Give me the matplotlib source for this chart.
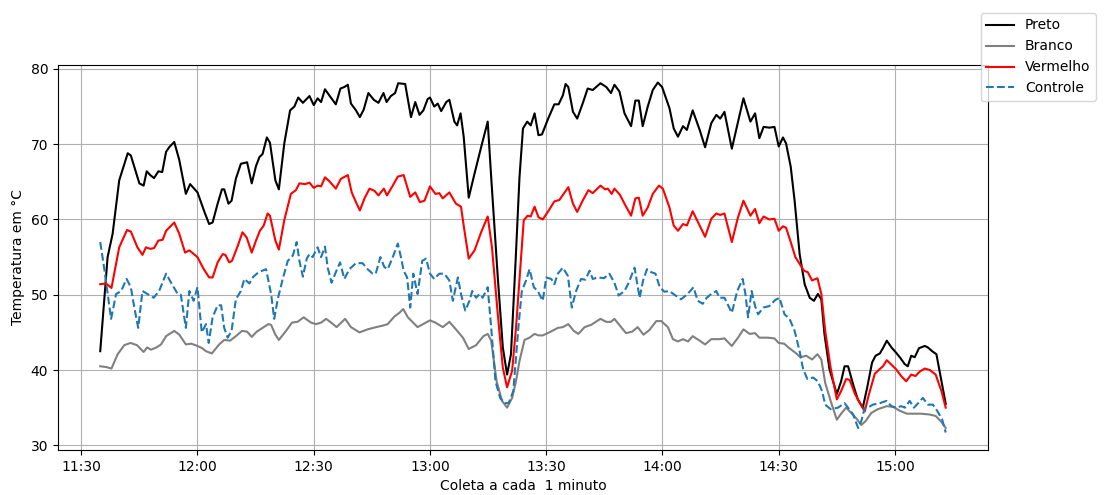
import matplotlib
matplotlib.use('Agg')
import matplotlib.pyplot as plt
import matplotlib.dates as mdates
import pandas as pd

# minutes after 11:30 and temperatures
preto_t = [4.9, 6.8, 8.1, 9.8, 12, 12.8, 15, 16.1, 16.9, 17.8, 18.8, 19.9, 20.9, 21.9, 22.7, 24, 25.3, 27, 28.1, 30,
           31.8, 33, 33.9, 35.2, 36.3, 36.9, 38, 38.8, 39.9, 41.2, 42.8, 44, 45.1, 46, 46.8, 47.9, 48.7, 50.1, 51, 52.4,
           53.9, 55, 56, 57.2, 58.9, 60, 61, 61.9, 62.9, 64, 65.7, 66.9, 67.9, 68.8, 69.6, 70.9, 71.9, 72.9, 74.1, 75.5,
           76.7, 78, 78.8, 79.9, 81, 81.8, 83.6, 85.1, 86.2, 87.3, 88.3, 89.4, 90, 91.1, 92, 92.9, 94.2, 95, 96.3, 97,
           97.9, 98.7, 100, 101.5, 103.2, 104.9, 105.8, 107.5, 108.8, 109.9, 110.9, 112.1, 113.1, 114, 115.1, 116, 117,
           118, 118.9, 120.5, 122.1, 123.2, 124.3, 125, 125.7, 126.9, 128, 129.4, 130.7, 132, 134, 135.5, 136.7, 137.6,
           138.9, 140.2, 141.9, 143, 143.9, 144.9, 146.2, 147.5, 148.8, 149.9, 151.8, 152.9, 154, 155.3, 156.3, 157.8,
           159.6, 161, 162.6, 163.9, 164.9, 166, 167.9, 169.5, 170.9, 172.7, 173.9, 175, 176.1, 177.6, 178.9, 180,
           181.1, 181.9, 183.1, 184.1, 185.4, 186.7, 188, 189.1, 190.1, 191, 191.8, 193.1, 195, 196.1, 197, 197.9,
           199.2, 200.4, 201.7, 202.8, 204.1, 205, 206.1, 206.9, 207.9, 209.1, 210.3, 211.4, 212.5, 213.3, 214.2,
           215.1, 216.2, 217.7, 218.5, 219.6, 220.7, 222, 223.1]
preto = [42.5, 55, 58.1, 65.2, 68.8, 68.5, 64.8, 64.5, 66.4, 65.9, 65.5, 66.4, 66.3, 69, 69.6, 70.3, 67.9, 63.4, 64.7, 63.6,
         61.0, 59.4, 59.6, 62.1, 64, 64, 62.1, 62.5, 65.4, 67.4, 67.6, 64.8, 67.1, 68.3, 68.7, 70.9, 70.2, 65.2, 64, 70.1,
         74.5, 75, 76.2, 75.5, 76.4, 75.2, 76.1, 75.6, 77.3, 76.5, 75.3, 77.4, 77.6, 77.9, 75.4, 74.5, 73.6, 74.6, 76.8, 75.9,
         75.5, 76.8, 75.6, 76.4, 76.8, 78.1, 78.0, 73.6, 75.6, 73.9, 74.5, 76, 76.2, 75, 75.4, 74.4, 75.6, 75.9, 73, 72.5,
         74.1, 71, 62.9, 66.1, 69.6, 73, 65.6, 52.3, 43, 39.4, 42.1, 54.5, 65.6, 72.1, 73, 72.5, 74.1,
         71.2, 71.3, 73.4, 75.3, 75.3, 76.5, 78, 77.6, 74.3, 73.4, 75.4, 77.4, 77.2, 78.1, 77.6, 76.8, 77.9,
         77, 74.1, 72.4, 75.8, 75.8, 72.4, 75, 77.2, 78.2, 77.6, 74.8, 72.1, 71, 72.4, 71.9, 74.5,
         71.9, 69.6, 72.8, 73.9, 73.4, 74.3, 69.4, 73, 76.1, 73, 74.1, 70.8, 72.3, 72.2, 72.3, 69.7,
         70.9, 70.1, 67, 62.5, 55.4, 51.4, 49.6, 49.2, 50.1, 49.4, 44.8, 40.1, 36.8, 38.5, 40.5, 40.5,
         38.1, 36.1, 35, 37.6, 41, 41.9, 42.2, 42.9, 43.9, 43, 42.3, 41.6, 40.8, 40.5, 41.9,
         41.7, 42.9, 43.2, 43, 42.5, 42.1, 38.5, 35.5]

branco_t = [4.9, 6.4, 7.8, 9.4, 11.1, 12.7, 14.4, 16.1, 17, 18, 19.4, 20.6, 21.9, 24, 25.3, 27, 28.4, 30, 31.2, 32.2,
            33.7, 35.6, 36.9, 38.4, 39.9, 41.5, 42.8, 44, 45.3, 46.8, 48.3, 49, 50.1, 51, 52.7, 54.4, 55.8, 57.4, 59.3,
            60.6, 61.9, 63.2, 64.5, 65.9, 68.1, 69.6, 71.8, 73.9, 76.1, 77.8, 79.1, 80.8, 82.1, 83.1, 84.3, 86.8, 90,
            91.4, 93.3, 95, 96.7, 98.5, 100, 101.9, 103.8, 104.9, 105.8, 107.2, 108.6, 109.9, 111.2, 112.2, 113.1,
            114.4, 115.7, 117, 118, 119.1, 120.8, 123, 124.3, 125.7, 127.1, 128.3, 129.9, 131.6, 134, 135.5, 136.7,
            137.6, 139, 140.6, 142.2, 143.6, 145.1, 146.6, 148.4, 149.7, 151.4, 152.7, 154, 155.3, 156.6, 157.8,
            159.6, 161, 162.6, 164.7, 166, 167.9, 169.5, 170.9, 172.5, 173.9, 175, 177.2, 178.9, 180, 181.4, 182.5,
            184.3, 185.6, 187.1, 188.6, 190, 191, 192, 193.4, 195, 196.1, 197.4, 198.7, 200, 201.3, 202.4, 203.9,
            205.6, 207.9, 209.6, 211.2, 213.1, 214.6, 216.7, 218.8, 220.5, 222, 223.1]
branco = [40.5, 40.4, 40.2, 42.1, 43.3, 43.6, 43.3, 42.4, 43, 42.7, 43, 43.4, 44.5, 45.2, 44.7, 43.4, 43.5, 43.2, 42.9, 42.5,
          42.2, 43.4, 44, 43.9, 44.5, 45.2, 45.1, 44.4, 45.1, 45.6, 46.1, 46, 44.7, 44, 45.1, 46.3, 46.4, 47, 46.3,
          46.1, 46.3, 46.8, 46.3, 45.7, 46.8, 45.7, 45, 45.4, 45.7, 45.9, 46.1, 47.1, 47.6, 48.1, 47, 45.7, 46.6,
          46.3, 45.7, 46.4, 45.4, 44.3, 42.8, 43.3, 44.5, 44.8, 43.9, 38.5, 35.9, 35, 36.3, 38.5, 41.2,
          44, 44.3, 44.8, 44.6, 44.6, 45, 45.6, 45.7, 46.1, 45.2, 44.8, 45.7, 46, 46.8, 46.4, 46.4,
          46.8, 45.9, 44.9, 45.1, 45.7, 44.7, 45.3, 46.5, 46.5, 45.7, 44.1, 43.8, 44.1, 43.8, 44.5,
          43.9, 43.4, 44.1, 44.1, 44.2, 43.2, 44.3, 45.4, 44.8, 44.9, 44.3, 44.3, 44.2, 43.6, 43.5, 43,
          42.3, 41.7, 41.9, 41.4, 42.1, 41.4, 38.3, 35.9, 33.4, 34.2, 35, 34.3, 33.6, 32.7, 33.2, 34.3,
          34.8, 35.2, 35.1, 34.6, 34.2, 34.2, 34.2, 34.1, 33.9, 33.1, 32.3]

vermelho_t = [4.9, 6.4, 7.8, 9.8, 11.8, 12.8, 14.5, 15.8, 16.7, 17.8, 18.8, 19.9, 21, 21.9, 24, 25.3, 26.8, 27.9, 30,
              31.5, 33, 33.9, 35.2, 36.5, 37.2, 38.2, 38.9, 40.4, 41.6, 42.7, 44, 45.1, 46.1, 47.1, 48.1, 48.7, 50.1,
              51, 52.4, 54.1, 55.4, 56.3, 57.8, 58.9, 60, 61, 61.9, 62.9, 64, 65.7, 67, 68.8, 69.8, 70.9, 71.9, 73.1,
              74.4, 75.7, 76.7, 78.1, 78.9, 80.4, 81.7, 83.2, 84.9, 86.2, 87.4, 88.6, 90, 91.4, 92.4, 93.3, 95, 96.7,
              98, 98.9, 100, 101.5, 103.2, 104.9, 106, 107.5, 108.8, 109.9, 111.2, 112.2, 113.1, 114.2, 115.2, 116,
              117, 118, 119.1, 120.4, 122.1, 123.4, 124.5, 125.7, 126.9, 128, 129.4, 130.9, 132, 134, 135.2, 135.9,
              136.9, 137.6, 139, 140.2, 141.9, 143, 143.9, 144.9, 146.2, 147.5, 149.1, 150.1, 151.8, 152.9, 154,
              155.3, 156.3, 157.8, 159.6, 161, 162.6, 163.9, 164.9, 166, 167.9, 169.5, 170.9, 172.7, 173.9, 175,
              176.1, 177.6, 178.9, 180, 181.1, 181.9, 183.1, 184.3, 185.4, 186.5, 187.5, 188.6, 190, 191, 192,
              193.4, 195, 196.1, 197.4, 198.3, 199.7, 201.2, 202.2, 203.3, 204.8, 206, 206.9, 207.9, 209.1, 210.3,
              211.6, 212.9, 214.2, 215.3, 216.4, 217.7, 219, 220.5, 222, 223.1]
vermelho = [51.4, 51.5, 50.9, 56.3, 58.6, 58.4, 56.3, 55.3, 56.3, 56.1, 56.2, 57.2, 57.3, 58.5, 59.6, 58.1, 55.6, 55.9, 55.0,
            53.5, 52.3, 52.3, 54.3, 55.4, 55.3, 54.3, 54.5, 56.5, 58.3, 57.6, 55.6, 57.2, 58.5, 59.2, 60.8, 60.5, 57.2,
            56, 59.9, 63.4, 63.9, 64.8, 64.7, 64.9, 64.2, 64.5, 64.4, 65.6, 65.1, 64.1, 65.4, 65.9, 63.6, 62.3, 61.2, 62.8,
            64.1, 63.8, 63.2, 64.1, 63.2, 64.5, 65.7, 65.9, 63.0, 63.6, 62.3, 62.5, 64.4, 63.4, 63.5, 62.8, 63.6, 62.1,
            61.7, 58.5, 54.8, 55.9, 58.3, 60.4, 56.3, 47.4, 40.3, 37.7, 39.9, 45.6, 52, 59.9, 60.5, 60.4,
            61.7, 60.3, 60, 61, 62.4, 62.6, 63.4, 64.3, 62.1, 61, 62.5, 63.9, 63.5, 64.5, 64, 64.1,
            63.4, 64.1, 63.3, 62.1, 60.5, 62.8, 62.9, 60.5, 61.6, 63.4, 64.5, 64.1, 61.6, 59.2, 58.5,
            59.4, 59.2, 61.1, 59.2, 57.7, 60.1, 60.8, 60.6, 60.8, 57, 60.3, 62.5, 60.5, 61.4, 59.5,
            60.4, 60, 60.1, 58.5, 59.1, 58.9, 57, 55, 54.1, 53.2, 53, 51.9, 52.2, 50.1, 45.2,
            40.3, 36.1, 37.2, 38.8, 38.7, 36.8, 35.4, 34.5, 36.8, 39.5, 40.1, 40.5, 41.3, 40.7, 40.1,
            39.2, 38.5, 39.4, 39.2, 39.8, 40.2, 40, 39.4, 37.2, 35.0]

controle_t = [4.9, 5.9, 7.7, 9, 10.3, 11.7, 12.8, 13.7, 14.7, 15.8, 17.1, 18.7, 20.1, 21.9, 23.3, 24.9, 25.7, 27, 27.9,
              29, 30, 31.1, 32.2, 32.9, 33.9, 35.2, 36.1, 36.9, 37.8, 38.8, 39.9, 41.2, 42.1, 43.4, 44.4, 45.8, 47.7,
              49, 49.8, 50.7, 52, 53.3, 54.6, 55.6, 56.3, 57.2, 58.2, 58.9, 59.7, 61, 61.9, 62.9, 63.6, 64.6, 65.7,
              66.8, 67.9, 69.2, 70.9, 72.6, 73.9, 75.2, 76, 77.2, 78.2, 79.1, 80.4, 81.7, 82.5, 83.2, 84.1, 84.9,
              85.7, 86.8, 88, 89, 90, 91.1, 92.4, 93.7, 95, 95.9, 97.2, 98, 99.1, 100.2, 100.9, 101.9, 102.8, 103.6,
              104.9, 105.8, 106.9, 108.1, 109.2, 110.3, 111.5, 112.8, 113.7, 114.8, 115.7, 116.8, 117.8, 119.1, 120,
              121.3, 122.1, 123, 124.3, 125.6, 126.6, 127.7, 129, 130.1, 131.2, 132, 133.4, 134.9, 136.3, 137.6,
              138.7, 140.2, 141.3, 142.8, 144.1, 145, 146, 147.1, 148.2, 149.3, 150.5, 151.8, 153.1, 154.8, 156.5,
              158, 159.1, 160.4, 161.4, 162.6, 163.9, 164.7, 166, 167.9, 169.3, 170.7, 171.4, 172.1, 173, 173.9,
              174.7, 176, 177.6, 179.1, 180.2, 181.5, 182.8, 184.1, 185.4, 186.3, 187.4, 188.9, 190.1, 191.2, 192,
              193.4, 195.3, 197, 197.9, 199.2, 200.5, 201.3, 202.2, 203, 204.3, 206.1, 207.8, 209.1, 210.3, 211.6,
              212.6, 213.8, 214.9, 216, 217.2, 218.5, 219.8, 221, 222.2, 223.1]
controle = [57, 53.6, 46.8, 50.1, 50.5, 52.1, 51, 48.3, 45.6, 50.5, 50.1, 49.6, 50.5, 52.8, 51.5, 50.1, 50, 45.6, 50.5,
            49.2, 51, 45, 46.1, 43.6, 47, 48.6, 48.6, 45.6, 44.3, 45.2, 49.4, 50.5, 52.1, 51.5, 52.4, 53, 53.4,
            50.1, 46.8, 49.4, 52.1, 54.5, 55.2, 57, 54.5, 52.4, 54.8, 55.4, 55, 56.3, 55, 56.4, 53.6, 51.6, 53,
            54.3, 52.1, 53.4, 54.2, 54.2, 53.4, 52.8, 52.8, 55, 53.7, 53.4, 55, 56.8, 55, 53.2, 52.3, 48.3,
            52.8, 50.1, 54.5, 54.8, 52.8, 52.1, 52.8, 52.8, 51.9, 49.2, 52.3, 50.1, 47.9, 49.2, 50.5, 49.6, 50.1, 49.6,
            51, 45.6, 38.5, 36.3, 35.6, 35.6, 37.2, 45.6, 50.5, 51.9, 53.4, 51, 50.5, 49.2, 52.3,
            52.1, 51.4, 52.8, 53.6, 52.5, 48.3, 50.5, 52.1, 52, 53.2, 52.1, 52.3, 52.2, 52.8, 51.6,
            49.9, 50.5, 51.6, 53.6, 49.6, 51.9, 53.4, 53, 52.8, 51, 50.4, 50.5, 50, 49.4, 50.1,
            51, 49.2, 48.8, 49.6, 50.1, 50.5, 49.6, 49.6, 47.6, 50.5, 52.1, 50.1, 47, 50.5, 48.5,
            47.4, 48.3, 48.5, 49.3, 49.6, 47.4, 46.8, 45.2, 42.5, 40.1, 38.8, 39, 38.5, 37.2, 35.4,
            34.8, 35, 35.6, 35, 34.1, 32.3, 33.2, 35, 35, 35.4, 35.6, 35.9, 35.2, 35, 35.2,
            35, 35.9, 35, 35.6, 36.3, 35.4, 35.4, 34.5, 33.4, 31.7]

inicio = pd.Timestamp('2023-01-01 11:30')

def horas(minutos):
    return inicio + pd.to_timedelta(minutos, unit='min')

fig = plt.figure(figsize=(11.06, 4.95), dpi=100)
ax = fig.add_axes([0.0524, 0.0909, 0.8409, 0.7778])

ax.plot(horas(preto_t), preto, color='black', label='Preto')
ax.plot(horas(branco_t), branco, color='gray', label='Branco')
ax.plot(horas(vermelho_t), vermelho, color='red', label='Vermelho')
ax.plot(horas(controle_t), controle, color='tab:blue', linestyle='--', label='Controle')

ax.xaxis.set_major_locator(mdates.MinuteLocator(byminute=[0, 30]))
ax.xaxis.set_major_formatter(mdates.DateFormatter('%H:%M'))
ax.grid(True)
ax.set_xlabel('Coleta a cada  1 minuto')
ax.set_ylabel('Temperatura em °C')

# legend sits outside the axes, top right of the figure
fig.legend(loc='upper right', bbox_to_anchor=(0.9973, 0.9879))

fig.savefig('out.png', dpi=100)
plt.close(fig)
